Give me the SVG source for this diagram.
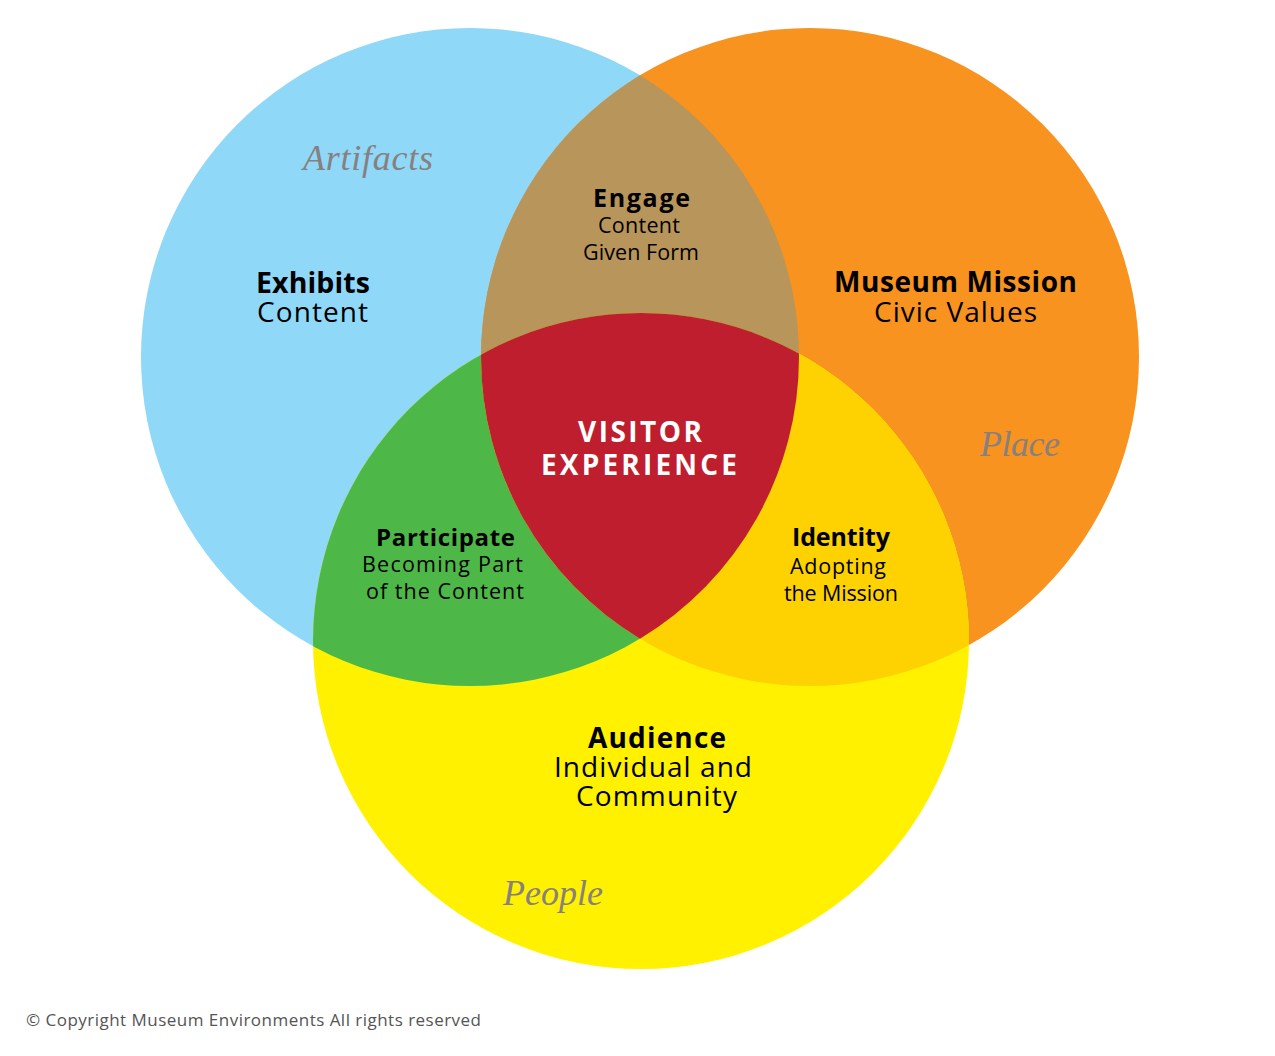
<svg xmlns="http://www.w3.org/2000/svg" width="1275" height="1056" viewBox="0 0 1275 1056">
<defs>
<clipPath id="cBlue"><circle cx="470" cy="357" r="329"/></clipPath>
<clipPath id="cOrange"><circle cx="810" cy="357" r="329"/></clipPath>
<clipPath id="cBlueOrange" clip-path="url(#cBlue)"><circle cx="810" cy="357" r="329"/></clipPath>
</defs>
<style>
.h{font-family:"Open Sans",Lato,sans-serif;font-weight:700;fill:#000;text-anchor:middle}
.s{font-family:"Open Sans",Lato,sans-serif;font-weight:400;fill:#000;text-anchor:middle}
.w{font-family:"Open Sans",Lato,sans-serif;font-weight:700;fill:#fff;text-anchor:middle}
.i{font-family:"Liberation Serif",serif;font-style:italic;fill:#87807f;text-anchor:middle}
</style>
<rect width="1275" height="1056" fill="#fff"/>
<g id="circles">
<circle id="blue" cx="470" cy="357" r="329" fill="#8fd8f8"/>
<circle id="orange" cx="810" cy="357" r="329" fill="#f7931e"/>
<circle id="yellow" cx="641" cy="641" r="328" fill="#fff100"/>
<circle id="brown" cx="810" cy="357" r="329" fill="#b8955a" clip-path="url(#cBlue)"/>
<circle id="green" cx="641" cy="641" r="328" fill="#4db848" clip-path="url(#cBlue)"/>
<circle id="gold" cx="641" cy="641" r="328" fill="#fdd200" clip-path="url(#cOrange)"/>
<circle id="red" cx="641" cy="641" r="328" fill="#be1e2d" clip-path="url(#cBlueOrange)"/>
</g>
<g id="exhibits">
<text class="i" x="368" y="170" font-size="36" textLength="130">Artifacts</text>
<text class="h" x="313" y="293" font-size="28.5" textLength="114">Exhibits</text>
<text class="s" x="312.5" y="322" font-size="28" textLength="111">Content</text>
</g>
<g id="engage">
<text class="h" x="641.5" y="207" font-size="25" textLength="97">Engage</text>
<text class="s" x="639" y="233" font-size="21.5" textLength="82">Content</text>
<text class="s" x="641" y="260" font-size="21.5" textLength="116">Given Form</text>
</g>
<g id="mission">
<text class="h" x="955.5" y="292" font-size="28" textLength="243">Museum Mission</text>
<text class="s" x="955.5" y="322" font-size="28" textLength="163">Civic Values</text>
<text class="i" x="1020" y="456" font-size="36" textLength="80">Place</text>
</g>
<g id="visitor">
<text class="w" x="640" y="442" font-size="28" textLength="124">VISITOR</text>
<text class="w" x="639" y="475" font-size="28" textLength="196">EXPERIENCE</text>
</g>
<g id="participate">
<text class="h" x="445.5" y="546" font-size="24" textLength="139">Participate</text>
<text class="s" x="442.5" y="572" font-size="21.5" textLength="161">Becoming Part</text>
<text class="s" x="445" y="599" font-size="21.5" textLength="158">of the Content</text>
</g>
<g id="identity">
<text class="h" x="841" y="546" font-size="25" textLength="98">Identity</text>
<text class="s" x="838" y="574" font-size="21.5" textLength="96">Adopting</text>
<text class="s" x="841" y="601" font-size="21.5" textLength="114">the Mission</text>
</g>
<g id="audience">
<text class="h" x="657" y="748" font-size="28" textLength="138">Audience</text>
<text class="s" x="653" y="777" font-size="28" textLength="198">Individual and</text>
<text class="s" x="656.5" y="806" font-size="28" textLength="161">Community</text>
<text class="i" x="553" y="905" font-size="36" textLength="100">People</text>
</g>
<g id="copyright">
<text x="26" y="1026" font-family="'Open Sans',sans-serif" font-size="17" fill="#555" textLength="455">© Copyright Museum Environments All rights reserved</text>
</g>
</svg>
